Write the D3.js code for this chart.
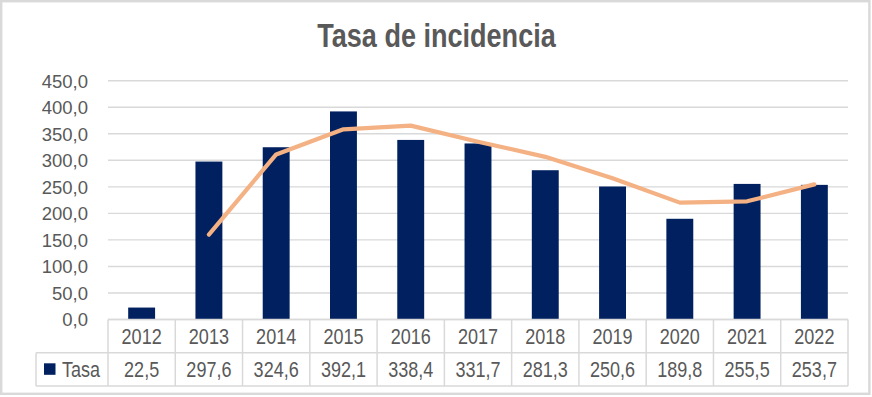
<!DOCTYPE html>
<html><head><meta charset="utf-8">
<script src="https://cdn.jsdelivr.net/npm/d3@7"></script>
<style>html,body{margin:0;padding:0;background:#fff;}svg{display:block;}</style>
</head><body>
<svg id="chart" width="872" height="397"></svg>
<script>
const years = ["2012","2013","2014","2015","2016","2017","2018","2019","2020","2021","2022"];
const tasa = [22.5, 297.6, 324.6, 392.1, 338.4, 331.7, 281.3, 250.6, 189.8, 255.5, 253.7];
const lineValues = [null, 160.1, 311.1, 358.4, 365.3, 335.1, 306.5, 266.0, 220.2, 222.7, 254.6];
const yTicks = [0, 50, 100, 150, 200, 250, 300, 350, 400, 450];
const seriesName = "Tasa";
const titleText = "Tasa de incidencia";

const locale = d3.formatLocale({decimal: ",", thousands: ".", grouping: [3], currency: ["", "€"]});
const fmt = locale.format(".1f");

// detect narrow font
function narrowAvailable() {
  const c = document.createElement("canvas").getContext("2d");
  c.font = "30px monospace";
  const a = c.measureText("Tasa de incidencia 2012").width;
  c.font = "30px 'Liberation Sans Narrow', monospace";
  const b = c.measureText("Tasa de incidencia 2012").width;
  return Math.abs(a - b) > 1;
}
const hasNarrow = narrowAvailable();
const narrowFamily = hasNarrow ? "'Liberation Sans Narrow', 'Arial Narrow', sans-serif" : "'Liberation Sans', Arial, sans-serif";
const sx = hasNarrow ? 1 : 0.82;

const textColor = "#595959";
const gridColor = "#d9d9d9";
const svg = d3.select("#chart");

// outer border
svg.append("rect").attr("x", 1.2).attr("y", 1.2).attr("width", 868.2).attr("height", 392.6)
  .attr("fill", "#fff").attr("stroke", gridColor).attr("stroke-width", 2.4);

const x = d3.scaleBand().domain(years).range([108, 848]).paddingInner(0).paddingOuter(0);
const y = d3.scaleLinear().domain([0, 450]).range([319.5, 80.7]);

function narrowText(g, tx, ty, txt, size, weight, anchor) {
  return g.append("text")
    .attr("transform", `translate(${tx},${ty}) scale(${sx},1)`)
    .attr("text-anchor", anchor || "middle")
    .attr("font-family", narrowFamily)
    .attr("font-size", size)
    .attr("font-weight", weight || "normal")
    .attr("fill", textColor)
    .text(txt);
}

// title
narrowText(svg, 436.5, 47.3, titleText, 33, "bold");

// gridlines
svg.append("g").selectAll("line").data(yTicks).join("line")
  .attr("x1", x.range()[0]).attr("x2", x.range()[1])
  .attr("y1", d => y(d)).attr("y2", d => y(d))
  .attr("stroke", gridColor).attr("stroke-width", 1.4);

// y axis
const yAxis = svg.append("g").attr("transform", "translate(88,0)")
  .call(d3.axisLeft(y).tickValues(yTicks).tickSize(0).tickPadding(0).tickFormat(fmt));
yAxis.select(".domain").remove();
yAxis.selectAll("text").attr("font-family", "'Liberation Sans', Arial, sans-serif")
  .attr("font-size", 18.5).attr("fill", textColor).attr("dy", "0.35em");

// bars
const bw = x.bandwidth() * 0.4;
svg.append("g").selectAll("rect").data(tasa).join("rect")
  .attr("x", (d, i) => x(years[i]) + (x.bandwidth() - bw) / 2)
  .attr("width", bw)
  .attr("y", d => y(d))
  .attr("height", d => y(0) - y(d))
  .attr("fill", "#002060");

// line
const line = d3.line()
  .defined(d => d != null)
  .x((d, i) => x(years[i]) + x.bandwidth() / 2)
  .y(d => y(d));
svg.append("path").datum(lineValues)
  .attr("d", line)
  .attr("fill", "none").attr("stroke", "#F4B183").attr("stroke-width", 4.2)
  .attr("stroke-linecap", "round").attr("stroke-linejoin", "round");

// data table
const t = svg.append("g");
const row0 = y(0), row1 = 352.7, row2 = 386;
const legendLeft = 36;
const xl = x.range()[0], xr = x.range()[1];
const tStroke = 1.5;
t.append("line").attr("x1", xl).attr("x2", xr).attr("y1", row0).attr("y2", row0).attr("stroke", gridColor).attr("stroke-width", tStroke);
t.append("line").attr("x1", legendLeft).attr("x2", xr).attr("y1", row1).attr("y2", row1).attr("stroke", gridColor).attr("stroke-width", tStroke);
t.append("line").attr("x1", legendLeft).attr("x2", xr).attr("y1", row2).attr("y2", row2).attr("stroke", gridColor).attr("stroke-width", tStroke);
t.append("line").attr("x1", legendLeft).attr("x2", legendLeft).attr("y1", row1).attr("y2", row2).attr("stroke", gridColor).attr("stroke-width", tStroke);
const bounds = years.map(d => x(d)).concat([xr]);
t.selectAll("line.v").data(bounds).join("line").attr("class", "v")
  .attr("x1", d => d).attr("x2", d => d).attr("y1", row0).attr("y2", row2)
  .attr("stroke", gridColor).attr("stroke-width", tStroke);

years.forEach((yr, i) => {
  const cx = x(yr) + x.bandwidth() / 2;
  narrowText(t, cx, 344.3, yr, 22);
  narrowText(t, cx, 376.7, fmt(tasa[i]), 22);
});

// legend key
t.append("rect").attr("x", 44).attr("y", 363.3).attr("width", 11.5).attr("height", 11.5).attr("fill", "#002060");
narrowText(t, 62, 376.7, seriesName, 22, "normal", "start");
</script>
</body></html>
